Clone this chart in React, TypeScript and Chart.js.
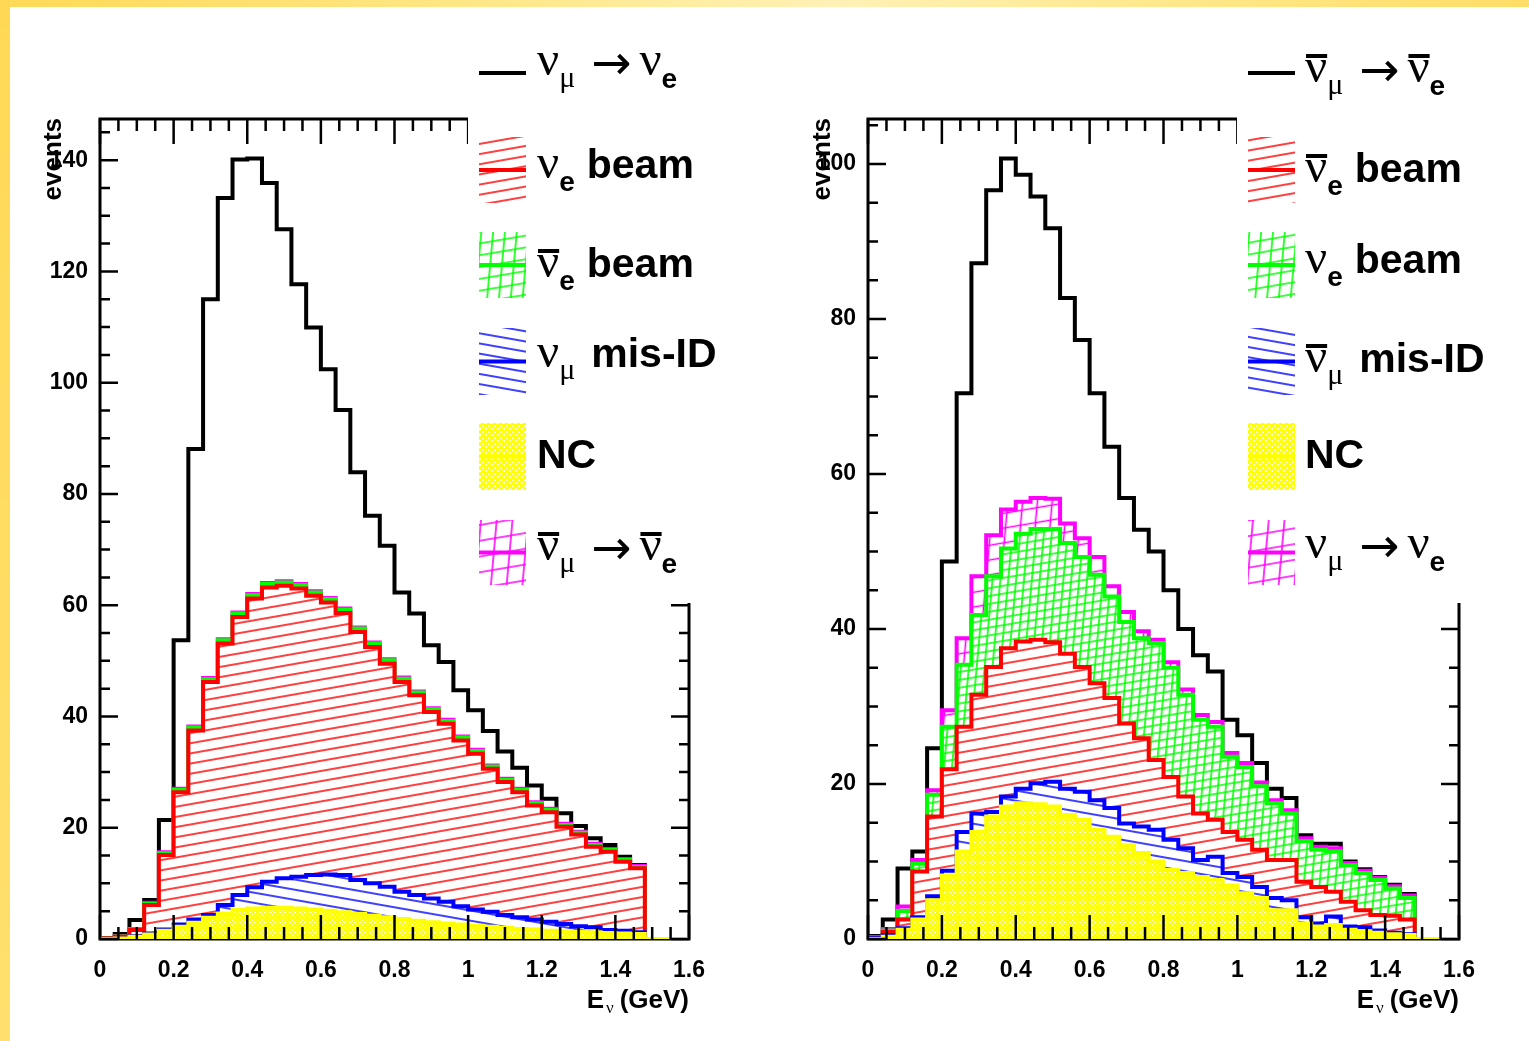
import React, { useEffect, useRef } from "react";
import { Chart, registerables } from "chart.js";

Chart.register(...registerables);

// ---------------- DATA ----------------
// histogram bin edges (GeV), 40 bins of 0.04
const binEdges = [
  0, 0.04, 0.08, 0.12, 0.16, 0.2, 0.24, 0.28, 0.32, 0.36, 0.4, 0.44, 0.48, 0.52,
  0.56, 0.6, 0.64, 0.68, 0.72, 0.76, 0.8, 0.84, 0.88, 0.92, 0.96, 1, 1.04, 1.08,
  1.12, 1.16, 1.2, 1.24, 1.28, 1.32, 1.36, 1.4, 1.44, 1.48, 1.52, 1.56, 1.6,
];

const xTickValues = [0, 0.2, 0.4, 0.6, 0.8, 1, 1.2, 1.4, 1.6];
const xTickLabels = ["0", "0.2", "0.4", "0.6", "0.8", "1", "1.2", "1.4", "1.6"];
const yTickValuesL = [0, 20, 40, 60, 80, 100, 120, 140];
const yTickLabelsL = ["0", "20", "40", "60", "80", "100", "120", "140"];
const yTickValuesR = [0, 20, 40, 60, 80, 100];
const yTickLabelsR = ["0", "20", "40", "60", "80", "100"];

// Left panel (neutrino mode): stacked levels
const sigL = [0.2, 0.9, 3.4, 7.0, 21.4, 53.7, 88.1, 115.0, 133.2, 140.1, 140.3, 135.9, 127.6, 117.7, 109.9, 102.4, 95.1, 83.9, 76.1, 70.7, 62.3, 58.5, 52.8, 49.8, 44.7, 41.1, 37.4, 33.7, 30.8, 27.6, 25.2, 22.6, 20.3, 18.1, 16.9, 14.8, 13.3, 0, 0, 0];
const wrongSignStackL = [0.1, 0.5, 1.8, 6.5, 15.6, 27.0, 38.2, 46.9, 53.9, 58.7, 62.0, 64.0, 64.3, 63.8, 62.5, 61.3, 59.4, 56.0, 53.3, 50.3, 47.0, 44.5, 41.5, 39.4, 36.4, 34.0, 31.2, 28.8, 27.0, 24.6, 23.4, 20.7, 19.3, 17.1, 16.2, 14.4, 13.1, 0, 0, 0];
const antiBeamStackL = [0.1, 0.45, 1.7, 6.3, 15.4, 26.8, 38.0, 46.7, 53.7, 58.5, 61.8, 63.8, 64.1, 63.6, 62.3, 61.1, 59.2, 55.8, 53.1, 50.1, 46.8, 44.3, 41.3, 39.2, 36.2, 33.8, 31.0, 28.6, 26.8, 24.4, 23.2, 20.5, 19.1, 16.9, 16.0, 14.2, 12.95, 0, 0, 0];
const beamStackL = [0.1, 0.4, 1.6, 6.1, 15.1, 26.4, 37.5, 46.2, 53.1, 57.9, 61.2, 63.2, 63.5, 63.0, 61.7, 60.5, 58.6, 55.2, 52.5, 49.5, 46.2, 43.8, 40.8, 38.7, 35.7, 33.3, 30.6, 28.2, 26.4, 24.0, 22.8, 20.2, 18.8, 16.6, 15.7, 13.9, 12.7, 0, 0, 0];
const misIdStackL = [0, 0.1, 0.5, 1.0, 1.7, 2.6, 3.5, 4.3, 6.1, 7.9, 9.3, 10.3, 10.9, 11.2, 11.5, 11.6, 11.5, 10.6, 10.0, 9.4, 8.5, 7.9, 7.3, 6.7, 5.9, 5.3, 4.9, 4.3, 3.9, 3.5, 3.1, 2.7, 2.3, 2.1, 1.6, 1.5, 1.2, 0, 0, 0];
const ncL = [0, 0.1, 0.4, 0.8, 1.5, 2.2, 2.9, 3.8, 4.6, 5.2, 5.5, 5.6, 5.6, 5.5, 5.3, 5.1, 4.8, 4.5, 4.2, 3.9, 3.6, 3.3, 3.0, 2.8, 2.6, 2.4, 2.2, 2.0, 1.8, 1.7, 1.5, 1.4, 1.3, 1.2, 1.1, 1.0, 0.9, 0, 0, 0];

// Right panel (antineutrino mode)
const sigR = [0.4, 2.5, 9.1, 11.3, 24.6, 48.7, 70.4, 87.2, 96.6, 100.7, 98.6, 95.8, 91.7, 82.7, 77.3, 70.4, 63.5, 56.9, 52.8, 50.0, 45.0, 40.0, 36.6, 34.5, 28.3, 26.3, 22.7, 19.4, 18.2, 13.4, 12.3, 12.3, 10.0, 9.0, 8.0, 7.0, 5.8, 0, 0, 0];
const wrongSignStackR = [0.2, 1.3, 4.2, 10.2, 19.2, 29.5, 38.8, 46.8, 52.1, 55.4, 56.4, 56.9, 56.8, 53.6, 51.7, 49.3, 45.5, 42.2, 39.7, 38.6, 35.7, 32.2, 28.9, 28.0, 24.0, 22.7, 20.2, 17.9, 16.6, 13.0, 11.9, 11.7, 9.8, 8.8, 7.9, 6.8, 5.6, 0, 0, 0];
const antiBeamStackR = [0.2, 1.1, 3.6, 9.7, 18.6, 27.4, 35.4, 41.8, 46.8, 50.4, 52.3, 52.9, 52.9, 51.1, 49.3, 47.0, 44.2, 40.9, 38.8, 38.2, 35.0, 31.5, 28.3, 27.4, 23.5, 22.2, 19.7, 17.5, 16.2, 12.6, 11.5, 11.3, 9.5, 8.5, 7.6, 6.5, 5.3, 0, 0, 0];
const beamStackR = [0.1, 0.9, 2.5, 8.7, 15.8, 21.9, 27.4, 31.5, 35.1, 37.5, 38.4, 38.6, 38.3, 36.8, 35.1, 33.0, 31.1, 27.8, 25.9, 23.1, 20.9, 18.4, 16.2, 15.4, 13.8, 12.8, 11.5, 10.2, 10.2, 7.4, 6.7, 6.1, 4.8, 3.7, 3.1, 3.0, 2.5, 0, 0, 0];
const misIdStackR = [0.1, 0.5, 1.4, 2.8, 5.5, 8.8, 13.8, 16.2, 16.4, 18.4, 19.4, 20.1, 20.3, 19.4, 19.0, 17.9, 16.9, 14.9, 14.5, 14.1, 12.8, 11.7, 10.2, 10.6, 8.5, 8.0, 6.7, 5.3, 5.0, 2.8, 2.0, 2.9, 1.6, 1.5, 1.1, 0.8, 0.6, 0, 0, 0];
const ncR = [0, 0.3, 1.2, 2.5, 5.0, 8.2, 11.3, 13.8, 15.8, 17.1, 17.5, 17.4, 17.1, 16.0, 15.4, 14.1, 13.2, 12.1, 11.1, 10.0, 8.9, 8.5, 8.0, 7.6, 6.9, 5.9, 5.3, 3.7, 3.7, 2.0, 1.6, 1.8, 1.2, 1.0, 0.8, 0.6, 0.5, 0, 0, 0];

// ---------------- STYLE ----------------
const SANS = "'Liberation Sans', Arial, Helvetica, sans-serif";
const SERIF = "'Liberation Serif', 'DejaVu Serif', serif";
const W = 1529;
const H = 1041;
const COLORS: Record<string, string> = {
  red: "#ff0000",
  green: "#00ff00",
  blue: "#0000ff",
  yellow: "#ffff00",
  magenta: "#ff00ff",
  black: "#000000",
};

function tile(w: number, h: number) {
  const c = document.createElement("canvas");
  c.width = w;
  c.height = h;
  const g = c.getContext("2d")!;
  g.fillStyle = "#ffffff";
  g.fillRect(0, 0, w, h);
  return { c, g };
}

function linePattern(color: string, spacing: number, angle: number, lw: number) {
  const { c, g } = tile(16, spacing);
  g.strokeStyle = color;
  g.lineWidth = lw;
  g.beginPath();
  g.moveTo(0, spacing / 2);
  g.lineTo(16, spacing / 2);
  g.stroke();
  const p = g.createPattern(c, "repeat")!;
  p.setTransform(new DOMMatrix().rotate(angle));
  return p;
}

function gridPattern(color: string, size: number, lw: number) {
  const { c, g } = tile(size, size);
  g.strokeStyle = color;
  g.lineWidth = lw;
  g.beginPath();
  g.moveTo(size / 2, 0);
  g.lineTo(size / 2, size);
  g.moveTo(0, size / 2);
  g.lineTo(size, size / 2);
  g.stroke();
  const p = g.createPattern(c, "repeat")!;
  p.setTransform(new DOMMatrix([1, -0.17, -0.09, 1, 0, 0]));
  return p;
}

function crossPattern(color: string, size: number, lw: number) {
  const { c, g } = tile(size, size);
  g.strokeStyle = color;
  g.lineWidth = lw;
  g.beginPath();
  for (const k of [-1, 0, 1]) {
    g.moveTo(k * size, 0);
    g.lineTo(k * size + size, size);
    g.moveTo(k * size, size);
    g.lineTo(k * size + size, 0);
  }
  g.stroke();
  return g.createPattern(c, "repeat")!;
}

function makePatterns(legend: boolean) {
  return {
    red: linePattern(COLORS.red, 10, -10, 1.5),
    blue: linePattern(COLORS.blue, 10, 10, 1.5),
    green: gridPattern(COLORS.green, legend ? 12 : 8, 1.6),
    magenta: gridPattern(COLORS.magenta, legend ? 16 : 15, 1.6),
    yellow: crossPattern(COLORS.yellow, legend ? 6 : 5, 2.2),
  } as Record<string, CanvasPattern>;
}

type Part = { k: "nu" | "mu" | "e" | "arrow" | "word"; bar?: boolean; t?: string };
const NU: Part = { k: "nu" };
const NUBAR: Part = { k: "nu", bar: true };
const MU: Part = { k: "mu" };
const E: Part = { k: "e" };
const ARROW: Part = { k: "arrow" };
const WORD = (t: string): Part => ({ k: "word", t });

type LegendEntry = {
  type: "line" | "box";
  key: string;
  top: number;
  bottom: number;
  base: number;
  parts: Part[];
};

const legendL: LegendEntry[] = [
  { type: "line", key: "black", top: 73, bottom: 73, base: 75, parts: [NU, MU, ARROW, NU, E] },
  { type: "box", key: "red", top: 137, bottom: 203, base: 178, parts: [NU, E, WORD("beam")] },
  { type: "box", key: "green", top: 232, bottom: 298, base: 277, parts: [NUBAR, E, WORD("beam")] },
  { type: "box", key: "blue", top: 328, bottom: 395, base: 367, parts: [NU, MU, WORD("mis-ID")] },
  { type: "box", key: "yellow", top: 423, bottom: 490, base: 468, parts: [WORD("NC")] },
  { type: "box", key: "magenta", top: 520, bottom: 585, base: 560, parts: [NUBAR, MU, ARROW, NUBAR, E] },
];
const legendR: LegendEntry[] = [
  { type: "line", key: "black", top: 73, bottom: 73, base: 82, parts: [NUBAR, MU, ARROW, NUBAR, E] },
  { type: "box", key: "red", top: 137, bottom: 203, base: 182, parts: [NUBAR, E, WORD("beam")] },
  { type: "box", key: "green", top: 232, bottom: 298, base: 273, parts: [NU, E, WORD("beam")] },
  { type: "box", key: "blue", top: 328, bottom: 395, base: 372, parts: [NUBAR, MU, WORD("mis-ID")] },
  { type: "box", key: "yellow", top: 423, bottom: 490, base: 468, parts: [WORD("NC")] },
  { type: "box", key: "magenta", top: 520, bottom: 585, base: 558, parts: [NU, MU, ARROW, NU, E] },
];

function drawRich(ctx: CanvasRenderingContext2D, parts: Part[], x: number, base: number) {
  let cx = x;
  ctx.fillStyle = "#000";
  ctx.textAlign = "left";
  for (const p of parts) {
    ctx.textBaseline = "alphabetic";
    if (p.k === "nu") {
      ctx.font = `49px ${SERIF}`;
      const w = ctx.measureText("ν").width;
      ctx.fillText("ν", cx, base);
      if (p.bar) ctx.fillRect(cx + 1, base - 28, w - 1, 4);
      cx += w;
    } else if (p.k === "mu") {
      ctx.font = `30px ${SERIF}`;
      ctx.fillText("μ", cx, base + 12);
      cx += ctx.measureText("μ").width + 16;
    } else if (p.k === "e") {
      ctx.font = `bold 28px ${SANS}`;
      ctx.fillText("e", cx, base + 13);
      cx += ctx.measureText("e").width + 12;
    } else if (p.k === "arrow") {
      ctx.font = `48px 'DejaVu Sans', sans-serif`;
      ctx.textBaseline = "middle";
      ctx.fillText("→", cx, base - 8);
      cx += ctx.measureText("→").width + 8;
    } else {
      ctx.font = `bold 41px ${SANS}`;
      ctx.fillText(p.t || "", cx, base);
      cx += ctx.measureText(p.t || "").width;
    }
  }
}

type PanelCfg = {
  offsetX: number;
  width: number;
  yAxisWidth: number;
  padRight: number;
  yMax: number;
  yTicks: number[];
  yLabels: string[];
  legend: LegendEntry[];
  legendLeft: number;
  legendBottom: number;
  sampleX: number;
  textX: number;
  titleX: number;
  series: { sig: number[]; wrong: number[]; anti: number[]; beam: number[]; misid: number[]; nc: number[] };
};

const panels: PanelCfg[] = [
  {
    offsetX: 0, width: 765, yAxisWidth: 100, padRight: 76, yMax: 147.4,
    yTicks: yTickValuesL, yLabels: yTickLabelsL, legend: legendL,
    legendLeft: 468, legendBottom: 603, sampleX: 479, textX: 537, titleX: 61,
    series: { sig: sigL, wrong: wrongSignStackL, anti: antiBeamStackL, beam: beamStackL, misid: misIdStackL, nc: ncL },
  },
  {
    offsetX: 765, width: 764, yAxisWidth: 103, padRight: 70, yMax: 105.8,
    yTicks: yTickValuesR, yLabels: yTickLabelsR, legend: legendR,
    legendLeft: 1237, legendBottom: 603, sampleX: 1248, textX: 1305, titleX: 830,
    series: { sig: sigR, wrong: wrongSignStackR, anti: antiBeamStackR, beam: beamStackR, misid: misIdStackR, nc: ncR },
  },
];

function hist(vals: number[]) {
  const pts: { x: number; y: number }[] = [{ x: binEdges[0], y: 0 }];
  vals.forEach((v, i) => {
    pts.push({ x: binEdges[i], y: v });
    pts.push({ x: binEdges[i + 1], y: v });
  });
  pts.push({ x: binEdges[binEdges.length - 1], y: 0 });
  return pts;
}

function buildConfig(cfg: PanelCfg): any {
  const pat = makePatterns(false);
  const legPat = makePatterns(true);
  const ds = (label: string, vals: number[], key: string, filled: boolean) => ({
    label,
    data: hist(vals),
    borderColor: COLORS[key],
    borderWidth: 4,
    backgroundColor: filled ? pat[key] : "rgba(0,0,0,0)",
    fill: filled ? "origin" : false,
    pointRadius: 0,
    tension: 0,
    borderJoinStyle: "miter",
    borderCapStyle: "butt",
  });
  const s = cfg.series;
  const tickFont = { family: SANS, size: 23, weight: "bold" };

  const plugin = {
    id: "rootStyle",
    beforeDatasetsDraw(chart: any) {
      const { ctx, chartArea: a } = chart;
      ctx.save();
      ctx.strokeStyle = "#000";
      ctx.lineWidth = 3;
      ctx.strokeRect(a.left, a.top, a.right - a.left, a.bottom - a.top);
      ctx.restore();
    },
    afterDatasetsDraw(chart: any) {
      const { ctx, chartArea: a, scales } = chart;
      const xs = scales.x;
      const ys = scales.y;
      ctx.save();
      // ticks
      ctx.strokeStyle = "#000";
      ctx.lineWidth = 2.5;
      ctx.beginPath();
      for (let i = 0; i <= 32; i++) {
        const px = xs.getPixelForValue(i * 0.05);
        const major = i % 4 === 0;
        ctx.moveTo(px, a.bottom);
        ctx.lineTo(px, a.bottom - (major ? 24 : 12));
        ctx.moveTo(px, a.top);
        ctx.lineTo(px, a.top + (major ? 25 : 12));
      }
      for (let i = 0; i * 5 <= cfg.yMax; i++) {
        const py = ys.getPixelForValue(i * 5);
        const major = i % 4 === 0;
        ctx.moveTo(a.left, py);
        ctx.lineTo(a.left + (major ? 18 : 10), py);
        ctx.moveTo(a.right, py);
        ctx.lineTo(a.right - (major ? 18 : 10), py);
      }
      ctx.stroke();

      ctx.translate(-cfg.offsetX, 0);
      // legend (opaque box over the frame)
      ctx.fillStyle = "#ffffff";
      ctx.fillRect(cfg.legendLeft, 0, 1000, cfg.legendBottom);
      for (const e of cfg.legend) {
        if (e.type === "line") {
          ctx.strokeStyle = COLORS[e.key];
          ctx.lineWidth = 4;
          ctx.beginPath();
          ctx.moveTo(cfg.sampleX, e.top);
          ctx.lineTo(cfg.sampleX + 47, e.top);
          ctx.stroke();
        } else {
          ctx.fillStyle = legPat[e.key];
          ctx.fillRect(cfg.sampleX, e.top, 47, e.bottom - e.top);
          const mid = (e.top + e.bottom) / 2;
          ctx.strokeStyle = COLORS[e.key];
          ctx.lineWidth = 4;
          ctx.beginPath();
          ctx.moveTo(cfg.sampleX, mid);
          ctx.lineTo(cfg.sampleX + 47, mid);
          ctx.stroke();
        }
        drawRich(ctx, e.parts, cfg.textX, e.base);
      }
      ctx.restore();

      // axis titles
      ctx.save();
      ctx.fillStyle = "#000";
      const base = 1008;
      ctx.textBaseline = "alphabetic";
      ctx.textAlign = "left";
      ctx.font = `bold 26px ${SANS}`;
      const wE = ctx.measureText("E").width;
      const wG = ctx.measureText("(GeV)").width;
      ctx.font = `17px ${SERIF}`;
      const wN = ctx.measureText("ν").width;
      let sx = a.right - (wE + 2 + wN + 6 + wG);
      ctx.font = `bold 26px ${SANS}`;
      ctx.fillText("E", sx, base);
      sx += wE + 2;
      ctx.font = `17px ${SERIF}`;
      ctx.fillText("ν", sx, base + 5);
      sx += wN + 6;
      ctx.font = `bold 26px ${SANS}`;
      ctx.fillText("(GeV)", sx, base);
      // y title
      ctx.translate(cfg.titleX - cfg.offsetX, a.top - 1);
      ctx.rotate(-Math.PI / 2);
      ctx.textAlign = "right";
      ctx.font = `bold 26px ${SANS}`;
      ctx.fillText("events", 0, 0);
      ctx.restore();
    },
  };

  return {
    type: "line",
    data: {
      datasets: [
        ds("NC", s.nc, "yellow", true),
        ds("mis-ID", s.misid, "blue", true),
        ds("beam", s.beam, "red", true),
        ds("anti beam", s.anti, "green", true),
        ds("wrong sign", s.wrong, "magenta", true),
        ds("signal", s.sig, "black", false),
      ],
    },
    options: {
      responsive: false,
      animation: false,
      devicePixelRatio: 1,
      events: [],
      layout: { padding: { left: 0, right: cfg.padRight, top: 119, bottom: 0 } },
      plugins: { legend: { display: false }, tooltip: { enabled: false }, title: { display: false } },
      scales: {
        x: {
          type: "linear",
          min: 0,
          max: 1.6,
          grid: { display: false, drawTicks: false },
          border: { display: false },
          ticks: {
            autoSkip: false,
            maxRotation: 0,
            padding: 18,
            color: "#000",
            font: tickFont,
            callback: (_v: any, i: number) => xTickLabels[i],
          },
          afterBuildTicks: (ax: any) => {
            ax.ticks = xTickValues.map((value) => ({ value }));
          },
          afterFit: (ax: any) => {
            ax.height = 102;
          },
        },
        y: {
          type: "linear",
          min: 0,
          max: cfg.yMax,
          grid: { display: false, drawTicks: false },
          border: { display: false },
          ticks: {
            autoSkip: false,
            padding: 12,
            color: "#000",
            font: tickFont,
            callback: (_v: any, i: number) => cfg.yLabels[i],
          },
          afterBuildTicks: (ax: any) => {
            ax.ticks = cfg.yTicks.map((value) => ({ value }));
          },
          afterFit: (ax: any) => {
            ax.width = cfg.yAxisWidth;
          },
        },
      },
    },
    plugins: [plugin],
  };
}

function Panel({ cfg }: { cfg: PanelCfg }) {
  const ref = useRef<HTMLCanvasElement>(null);
  useEffect(() => {
    const chart = new Chart(ref.current!, buildConfig(cfg));
    return () => chart.destroy();
  }, [cfg]);
  return (
    <canvas
      ref={ref}
      width={cfg.width}
      height={H}
      style={{ position: "absolute", left: cfg.offsetX, top: 0, width: cfg.width, height: H }}
    />
  );
}

export default function App() {
  return (
    <div
      style={{
        position: "absolute",
        left: 0,
        top: 0,
        width: W,
        height: H,
        background: "#ffffff",
        overflow: "hidden",
      }}
    >
      {panels.map((p) => (
        <Panel key={p.offsetX} cfg={p} />
      ))}
      <div
        style={{
          position: "absolute",
          left: 0,
          top: 0,
          width: W,
          height: 7,
          background: "linear-gradient(to right, #ffd956, #ffe98e 35%, #fff1b6 55%, #ffe98e 75%, #ffdd66)",
        }}
      />
      <div
        style={{
          position: "absolute",
          left: 0,
          top: 0,
          width: 10,
          height: H,
          background: "linear-gradient(to bottom, #ffd956, #ffe06e)",
        }}
      />
    </div>
  );
}
